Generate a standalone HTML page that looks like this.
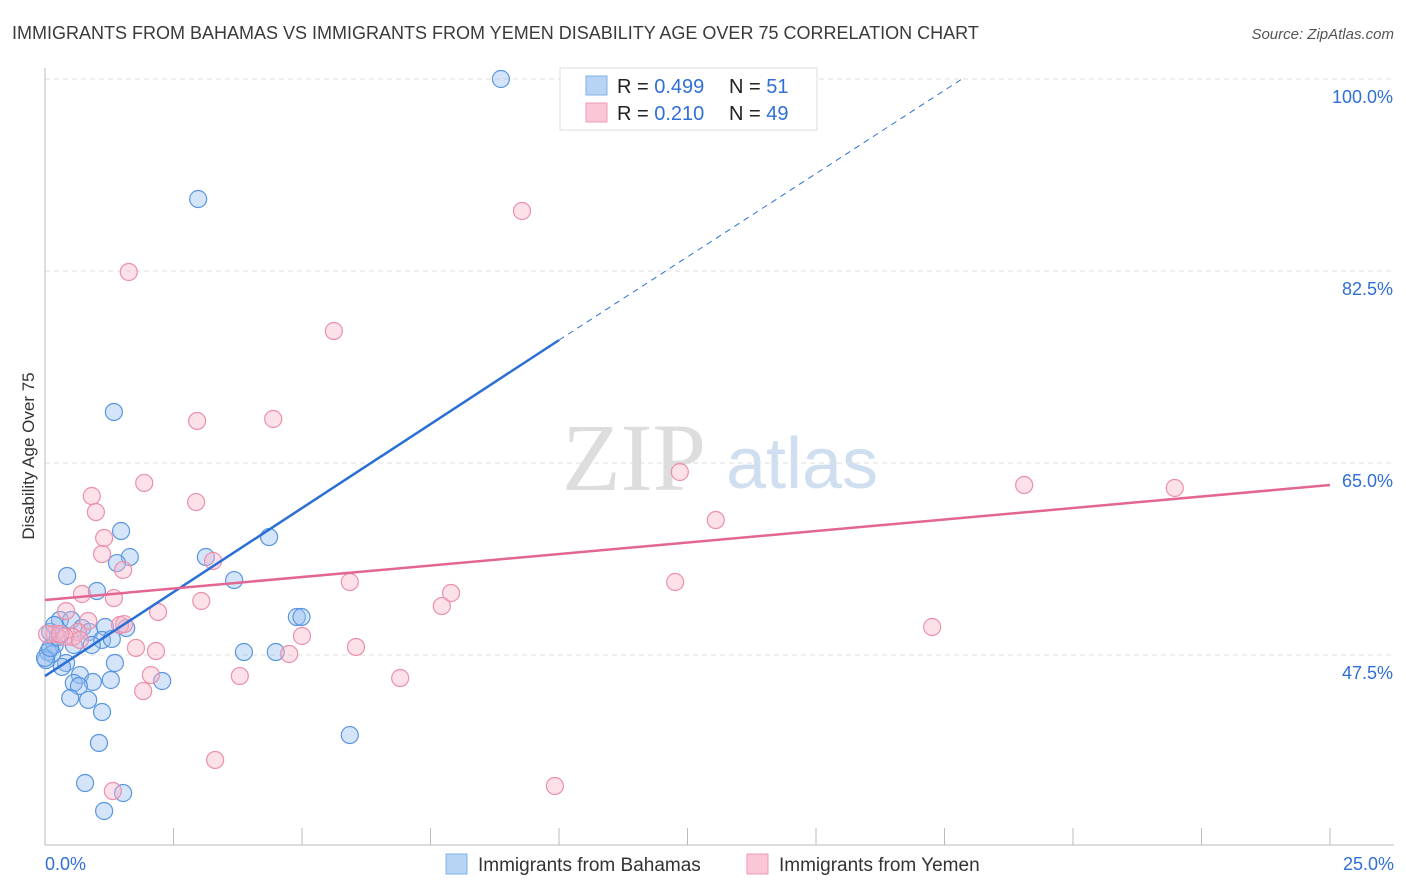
<!DOCTYPE html>
<html><head><meta charset="utf-8"><style>
body{margin:0;background:#fff;font-family:"Liberation Sans",sans-serif;}
svg{display:block}
</style></head><body>
<svg id="c" width="1406" height="892" xmlns="http://www.w3.org/2000/svg">
<text x="12" y="39" font-size="18" fill="#3a3a3a">IMMIGRANTS FROM BAHAMAS VS IMMIGRANTS FROM YEMEN DISABILITY AGE OVER 75 CORRELATION CHART</text>
<text x="1394" y="39" font-size="15" fill="#555" font-style="italic" text-anchor="end">Source: ZipAtlas.com</text>
<text x="34" y="456" font-size="17" fill="#333" text-anchor="middle" transform="rotate(-90 34 456)">Disability Age Over 75</text>
<g><text x="634" y="490" font-size="96" fill="#ddd" font-family="Liberation Serif,serif" text-anchor="middle">ZIP</text><text x="802" y="488" font-size="72" fill="#cfdff0" text-anchor="middle">atlas</text></g>
<g id="grid"></g><g id="axes"></g><g id="pts"></g><g id="lines"></g>
<g>
<rect x="560" y="68" width="257" height="62" fill="#fff" stroke="#ddd"/>
<rect x="586" y="76" width="21" height="19" fill="#b8d4f5" stroke="#7fb0e8"/>
<rect x="586" y="103" width="21" height="19" fill="#fbc6d5" stroke="#f19bb4"/>
<text x="617" y="93" font-size="20" fill="#222">R = <tspan fill="#2f6fd6">0.499</tspan></text><text x="729" y="93" font-size="20" fill="#222">N = <tspan fill="#2f6fd6"> 51</tspan></text>
<text x="617" y="120" font-size="20" fill="#222">R = <tspan fill="#2f6fd6"> 0.210</tspan></text><text x="729" y="120" font-size="20" fill="#222">N = <tspan fill="#2f6fd6">49</tspan></text>
</g>
<g>
<rect x="446" y="854" width="21" height="20" fill="#b8d4f5" stroke="#7fb0e8"/>
<text x="478" y="871" font-size="19" fill="#333">Immigrants from Bahamas</text>
<rect x="747" y="854" width="21" height="20" fill="#fbc6d5" stroke="#f19bb4"/>
<text x="779" y="871" font-size="19" fill="#333">Immigrants from Yemen</text>
</g>
</svg>
<script>
const yTicks=[47.5,65.0,82.5,100.0];
const xTickLabels=["0.0%","25.0%"];
const blueX=[8.87,2.98,1.34,1.48,1.65,1.40,3.13,4.36,0.43,3.68,1.01,4.90,4.99,0.29,0.51,1.17,1.58,0.72,0.10,0.86,1.11,0.91,0.19,0.56,0.06,0.14,3.87,4.49,1.36,0.41,0.02,0.68,1.28,0.93,0.56,0.66,2.28,0.49,0.84,1.11,1.05,5.93,0.78,1.52,1.15,0.0,0.10,0.25,1.30,0.33,0.18];
const blueY=[100,89.06,69.65,58.8,56.43,55.88,56.43,58.25,54.7,54.33,53.33,50.96,50.96,50.69,50.69,50.05,49.96,49.96,49.6,49.6,48.87,48.41,48.41,48.41,47.77,47.59,47.77,47.77,46.77,46.77,47.04,45.67,45.22,45.04,44.95,44.67,45.13,43.58,43.4,42.3,39.48,40.2,35.83,34.92,33.28,47.23,48.14,49.14,48.96,46.41,50.23];
const pinkX=[9.28,1.63,5.62,2.96,4.44,12.35,19.05,21.98,1.93,0.91,2.94,0.99,13.05,1.15,1.11,1.52,3.27,5.93,12.26,0.72,7.90,1.34,7.72,0.41,2.20,3.04,0.84,1.46,17.26,0.64,0.19,0.04,0.54,0.39,5.0,1.77,2.16,6.05,4.75,2.06,3.79,6.91,1.91,3.31,1.32,9.92,0.29,0.68,1.54];
const pinkY=[87.97,82.41,77.03,68.83,69.01,64.18,62.99,62.72,63.18,61.99,61.44,60.53,59.8,58.16,56.7,55.25,56.07,54.15,54.15,53.06,53.15,52.69,51.96,51.5,51.42,52.42,50.6,50.23,50.05,49.6,49.41,49.41,49.14,49.14,49.23,48.14,47.86,48.23,47.59,45.67,45.58,45.4,44.21,37.93,35.1,35.56,49.41,48.87,50.32];
const blueTrendX=[0,10,17.84];
const blueTrendY=[45.58,76.2,100];
const pinkTrendX=[0,25];
const pinkTrendY=[52.51,62.99];
const X=v=>45+v*51.4, Y=v=>79+(100-v)*10.971;
const NS="http://www.w3.org/2000/svg";
function mk(p,t,a){const e=document.createElementNS(NS,t);for(const k in a)e.setAttribute(k,a[k]);p.appendChild(e);return e;}
const grid=document.getElementById('grid'),axes=document.getElementById('axes'),pts=document.getElementById('pts'),lines=document.getElementById('lines');
yTicks.forEach(v=>{
 const l=mk(grid,'line',{x1:45,x2:1394,y1:Y(v),y2:Y(v),stroke:'#ddd','stroke-dasharray':'5,4'});
 
 
 const t=mk(axes,'text',{x:1393,y:Y(v)+24,'font-size':18,fill:'#2f6fd6','text-anchor':'end'});t.textContent=v.toFixed(1)+'%';
 
 
});
const ax=mk(axes,'line',{x1:45,x2:45,y1:68,y2:845,stroke:'#bbb'});


const bx=mk(axes,'line',{x1:45,x2:1394,y1:845,y2:845,stroke:'#bbb'});


for(let i=0;i<=10;i++){const tk=mk(axes,'line',{x1:X(i*2.5),x2:X(i*2.5),y1:828,y2:845,stroke:'#bbb'});
 
 }
xTickLabels.forEach((s,i)=>{const t=mk(axes,'text',{x:i?1394:45,y:870,'font-size':18,fill:'#2f6fd6','text-anchor':i?'end':'start'});t.textContent=s;
 
 });
blueX.forEach((v,i)=>{const c=mk(pts,'circle',{cx:X(v),cy:Y(blueY[i]),r:8.5,fill:'rgba(150,190,240,0.4)',stroke:'#5a96e0','stroke-width':1.2});
 
 });
pinkX.forEach((v,i)=>{const c=mk(pts,'circle',{cx:X(v),cy:Y(pinkY[i]),r:8.5,fill:'rgba(250,180,200,0.4)',stroke:'#eb8fab','stroke-width':1.2});
 
 });
const b1=mk(lines,'line',{x1:X(blueTrendX[0]),y1:Y(blueTrendY[0]),x2:X(blueTrendX[1]),y2:Y(blueTrendY[1]),stroke:'#2a6fd6','stroke-width':2.5});


const b2=mk(lines,'line',{x1:X(blueTrendX[1]),y1:Y(blueTrendY[1]),x2:X(blueTrendX[2]),y2:Y(blueTrendY[2]),stroke:'#2a6fd6','stroke-width':1,'stroke-dasharray':'6,5'});


const p1=mk(lines,'line',{x1:X(pinkTrendX[0]),y1:Y(pinkTrendY[0]),x2:X(pinkTrendX[1]),y2:Y(pinkTrendY[1]),stroke:'#e36592','stroke-width':2.5});


</script>
</body></html>
